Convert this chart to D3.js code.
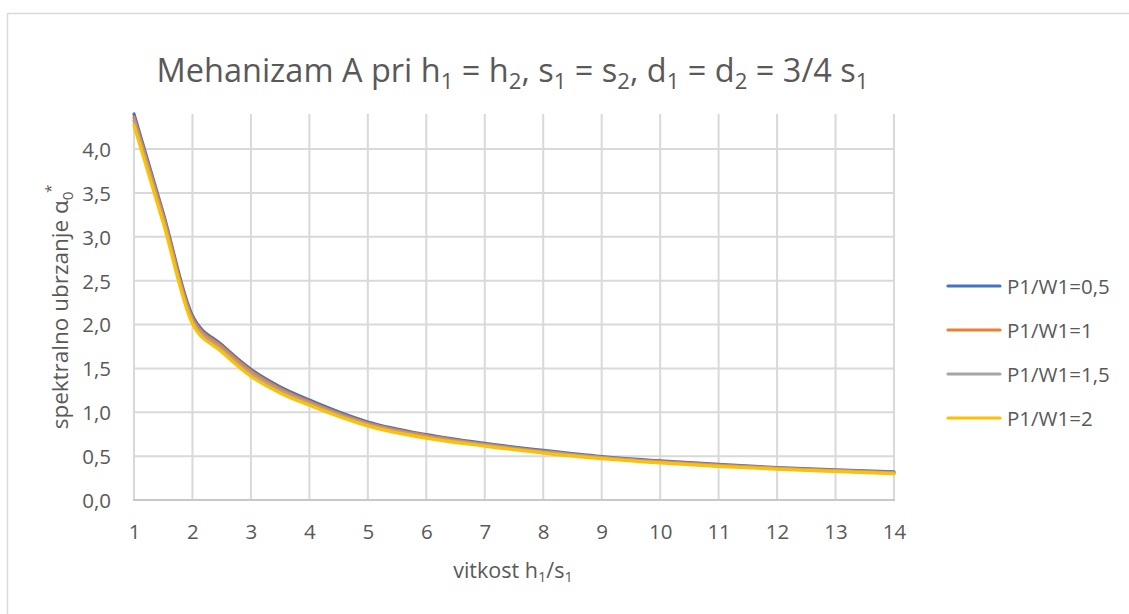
<!DOCTYPE html>
<html>
<head>
<meta charset="utf-8">
<script src="https://cdn.jsdelivr.net/npm/d3@7"></script>
<style>
  html, body { margin: 0; padding: 0; background: #fff; }
  svg { display: block; }
  text { font-family: "Open Sans", "Noto Sans", sans-serif; fill: #595959; }
</style>
</head>
<body>
<svg id="chart" width="1129" height="614"></svg>
<script>
// Slenderness h1/s1 (x) and spectral acceleration for each P1/W1 ratio
const slenderness = [1, 1.5, 2, 2.5, 3, 3.5, 4, 5, 6, 7, 8, 9, 10, 11, 12, 13, 14];
const ratio05 = [4.40, 3.27, 2.10, 1.77, 1.49, 1.29, 1.14, 0.89, 0.745, 0.645, 0.565, 0.495, 0.445, 0.405, 0.37, 0.345, 0.32];
const ratio10 = [4.36, 3.24, 2.07, 1.75, 1.47, 1.27, 1.12, 0.875, 0.735, 0.635, 0.555, 0.487, 0.437, 0.398, 0.364, 0.338, 0.313];
const ratio15 = [4.32, 3.20, 2.04, 1.72, 1.44, 1.245, 1.10, 0.86, 0.72, 0.625, 0.545, 0.48, 0.43, 0.39, 0.358, 0.332, 0.307];
const ratio20 = [4.27, 3.16, 2.01, 1.69, 1.41, 1.22, 1.08, 0.845, 0.705, 0.615, 0.535, 0.472, 0.423, 0.384, 0.352, 0.326, 0.301];
const seriesNames = ["P1/W1=0,5", "P1/W1=1", "P1/W1=1,5", "P1/W1=2"];
const seriesColors = ["#4472C4", "#ED7D31", "#A5A5A5", "#FFC000"];
const xTicks = [1, 2, 3, 4, 5, 6, 7, 8, 9, 10, 11, 12, 13, 14];
const yTicks = [0, 0.5, 1, 1.5, 2, 2.5, 3, 3.5, 4];

const seriesValues = [ratio05, ratio10, ratio15, ratio20];

const svg = d3.select("#chart");
const plot = { left: 134, right: 894, top: 114, bottom: 500 };

// Chart area frame
svg.append("rect")
  .attr("x", 7.5).attr("y", 13.5)
  .attr("width", 1200).attr("height", 700)
  .attr("fill", "#fff").attr("stroke", "#D9D9D9").attr("stroke-width", 1.5);

const x = d3.scaleLinear().domain([1, 14]).range([plot.left, plot.right]);
const y = d3.scaleLinear().domain([0, 4.4]).range([plot.bottom, plot.top]);
const fmt = v => d3.format(".1f")(v).replace(".", ",");

// Horizontal gridlines
svg.append("g")
  .selectAll("line").data(yTicks.filter(t => t > 0)).join("line")
  .attr("x1", plot.left).attr("x2", plot.right)
  .attr("y1", d => y(d)).attr("y2", d => y(d))
  .attr("stroke", "#D9D9D9").attr("stroke-width", 2);

// Vertical gridlines
svg.append("g")
  .selectAll("line").data(xTicks).join("line")
  .attr("x1", d => x(d)).attr("x2", d => x(d))
  .attr("y1", plot.top).attr("y2", plot.bottom)
  .attr("stroke", "#D9D9D9").attr("stroke-width", 2);

// Category axis line
svg.append("line")
  .attr("x1", plot.left - 1).attr("x2", plot.right + 1)
  .attr("y1", plot.bottom).attr("y2", plot.bottom)
  .attr("stroke", "#C8C8C8").attr("stroke-width", 2);

// Tick labels via d3 axes (domain and tick marks hidden)
const yAxis = svg.append("g")
  .attr("transform", `translate(${plot.left},0)`)
  .call(d3.axisLeft(y).tickValues(yTicks).tickFormat(fmt).tickSize(0).tickPadding(23));
yAxis.select(".domain").remove();
yAxis.selectAll("text")
  .attr("font-family", "'Open Sans', sans-serif").attr("font-size", 20.5)
  .style("fill", "#595959").attr("dy", "0.36em");

const xAxis = svg.append("g")
  .attr("transform", `translate(0,${plot.bottom})`)
  .call(d3.axisBottom(x).tickValues(xTicks).tickFormat(d3.format("d")).tickSize(0).tickPadding(25));
xAxis.select(".domain").remove();
xAxis.selectAll("text")
  .attr("font-family", "'Open Sans', sans-serif").attr("font-size", 20.5)
  .style("fill", "#595959").attr("dy", "0.71em").attr("y", 24);

// Series lines (smoothed)
const line = d3.line()
  .x(d => x(d[0])).y(d => y(d[1]))
  .curve(d3.curveMonotoneX);

seriesValues.forEach((vals, i) => {
  svg.append("path")
    .datum(slenderness.map((s, k) => [s, vals[k]]))
    .attr("d", line)
    .attr("fill", "none")
    .attr("stroke", seriesColors[i])
    .attr("stroke-width", 3.2)
    .attr("stroke-linejoin", "round")
    .attr("stroke-linecap", "round");
});

// Title with subscripts
const titleParts = [
  ["Mehanizam A pri h", 0], ["1", 1], [" = h", 0], ["2", 1], [", s", 0], ["1", 1],
  [" = s", 0], ["2", 1], [", d", 0], ["1", 1], [" = d", 0], ["2", 1], [" = 3/4 s", 0], ["1", 1]
];
const title = svg.append("text")
  .attr("x", 512.5).attr("y", 82)
  .attr("text-anchor", "middle")
  .attr("font-size", 32.5);
titleParts.forEach(([t, sub], i) => {
  const ts = title.append("tspan").text(t);
  if (sub) ts.attr("font-size", "0.68em").attr("dy", "0.3em");
  else if (i > 0) ts.attr("dy", (-0.3 * 0.68) + "em");
});

// X axis title
const xTitle = svg.append("text")
  .attr("x", 513).attr("y", 578)
  .attr("text-anchor", "middle")
  .attr("font-size", 21.5);
xTitle.append("tspan").text("vitkost h");
xTitle.append("tspan").text("1").attr("font-size", "0.68em").attr("dy", "0.3em");
xTitle.append("tspan").text("/s").attr("dy", "-0.204em");
xTitle.append("tspan").text("1").attr("font-size", "0.68em").attr("dy", "0.3em");

// Y axis title
const yTitle = svg.append("text")
  .attr("transform", "translate(68,307) rotate(-90)")
  .attr("text-anchor", "middle")
  .attr("font-size", 22.5);
yTitle.append("tspan").text("spektralno ubrzanje α");
yTitle.append("tspan").text("0").attr("font-size", "0.68em").attr("dy", "0.3em");
yTitle.append("tspan").text("*").attr("font-size", "0.68em").attr("dy", "-1.1em").attr("dx", "-0.1em");

// Legend
const legend = svg.append("g");
seriesNames.forEach((name, i) => {
  const cy = 286 + i * 44;
  legend.append("line")
    .attr("x1", 948).attr("x2", 1000)
    .attr("y1", cy).attr("y2", cy)
    .attr("stroke", seriesColors[i]).attr("stroke-width", 3.2)
    .attr("stroke-linecap", "round");
  legend.append("text")
    .attr("x", 1007).attr("y", cy + 7.5)
    .attr("font-size", 20.5)
    .text(name);
});
</script>
</body>
</html>
